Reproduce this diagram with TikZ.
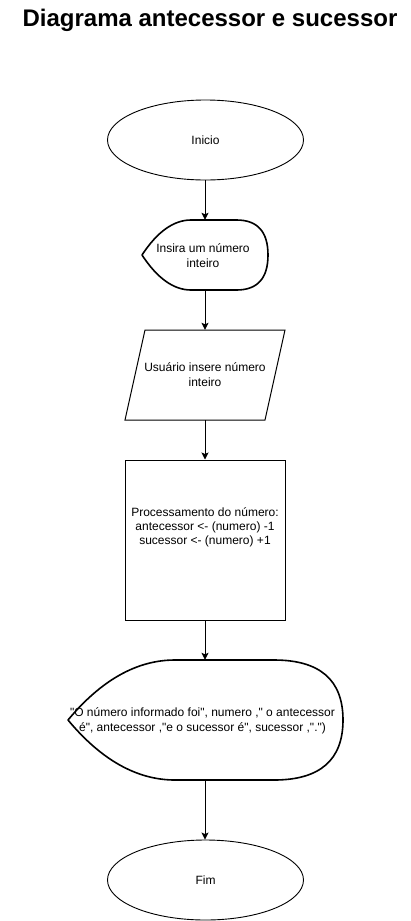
\documentclass[tikz,border=0pt]{standalone}
\usepackage{fontspec}
\setmainfont{Liberation Sans}[Ligatures=TeXOff]
\usetikzlibrary{shapes.geometric,arrows.meta}
\begin{document}
\begin{tikzpicture}[x=1pt,y=-1pt,
  txt/.style={font=\fontsize{12}{15}\selectfont, align=center, inner sep=0pt},
  term/.style={ellipse, draw, line width=0.9pt, minimum width=196pt, minimum height=80pt, inner sep=0pt, txt},
  thick outline/.style={line width=1.6pt, line join=round},
  thin outline/.style={line width=1pt},
  flow/.style={line width=1pt, -{Stealth[length=7pt,width=7pt,inset=1.5pt]}}]
\useasboundingbox (0,0) rectangle (410,921);

\node[font=\fontsize{24}{28}\selectfont\bfseries, inner sep=0pt] (title) at (210,20) {Diagrama antecessor e sucessor};

% Inicio
\node[term] (start) at (205.5,140) {Inicio};

% display 1
\node[inner sep=0pt, minimum width=126pt, minimum height=70pt] (disp1) at (205,255) {};
\draw[thick outline] (142,255) .. controls (157.3,231.7) and (173.7,220) .. (191,220)
  -- (236.5,220) .. controls (257.5,220) and (268,231.7) .. (268,255)
  .. controls (268,278.3) and (257.5,290) .. (236.5,290)
  -- (191,290) .. controls (173.7,290) and (157.3,278.3) .. (142,255) -- cycle;
\node[txt] (disp1t) at (203,255.5) {Insira um número\\inteiro};

% input parallelogram
\node[inner sep=0pt, minimum width=160pt, minimum height=90pt] (inp) at (205,375) {};
\draw[thin outline] (145,330) -- (285,330) -- (265,420) -- (125,420) -- cycle;
\node[txt] (inpt) at (205,375) {Usuário insere número\\inteiro};

% process
\node[draw, thin outline, inner sep=0pt, minimum width=160pt, minimum height=160pt] (proc) at (205,540) {};
\node[txt, font=\fontsize{12}{14}\selectfont] (proct) at (205,527) {Processamento do número:\\antecessor <- (numero) -1\\sucessor <- (numero) +1};

% display 2
\node[inner sep=0pt, minimum width=275pt, minimum height=120pt] (disp2) at (205,720) {};
\draw[thick outline] (68,720) .. controls (101.3,680) and (137,660) .. (175,660)
  -- (274,660) .. controls (320,660) and (343,680) .. (343,720)
  .. controls (343,760) and (320,780) .. (274,780)
  -- (175,780) .. controls (137,780) and (101.3,760) .. (68,720) -- cycle;
\node[txt] (disp2t) at (202.5,720.5) {"O número informado foi", numero ," o antecessor\\é", antecessor ,"e o sucessor é", sucessor ,".")};

% Fim
\node[term] (end) at (205.5,880) {Fim};

% connectors
\draw[flow] (start.south -| disp1.north) -- (disp1.north);
\draw[flow] (disp1.south) -- (inp.north);
\draw[flow] (inp.south) -- (proc.north);
\draw[flow] (proc.south) -- (disp2.north);
\draw[flow] (disp2.south) -- (disp2.south |- end.north);
\end{tikzpicture}
\end{document}
